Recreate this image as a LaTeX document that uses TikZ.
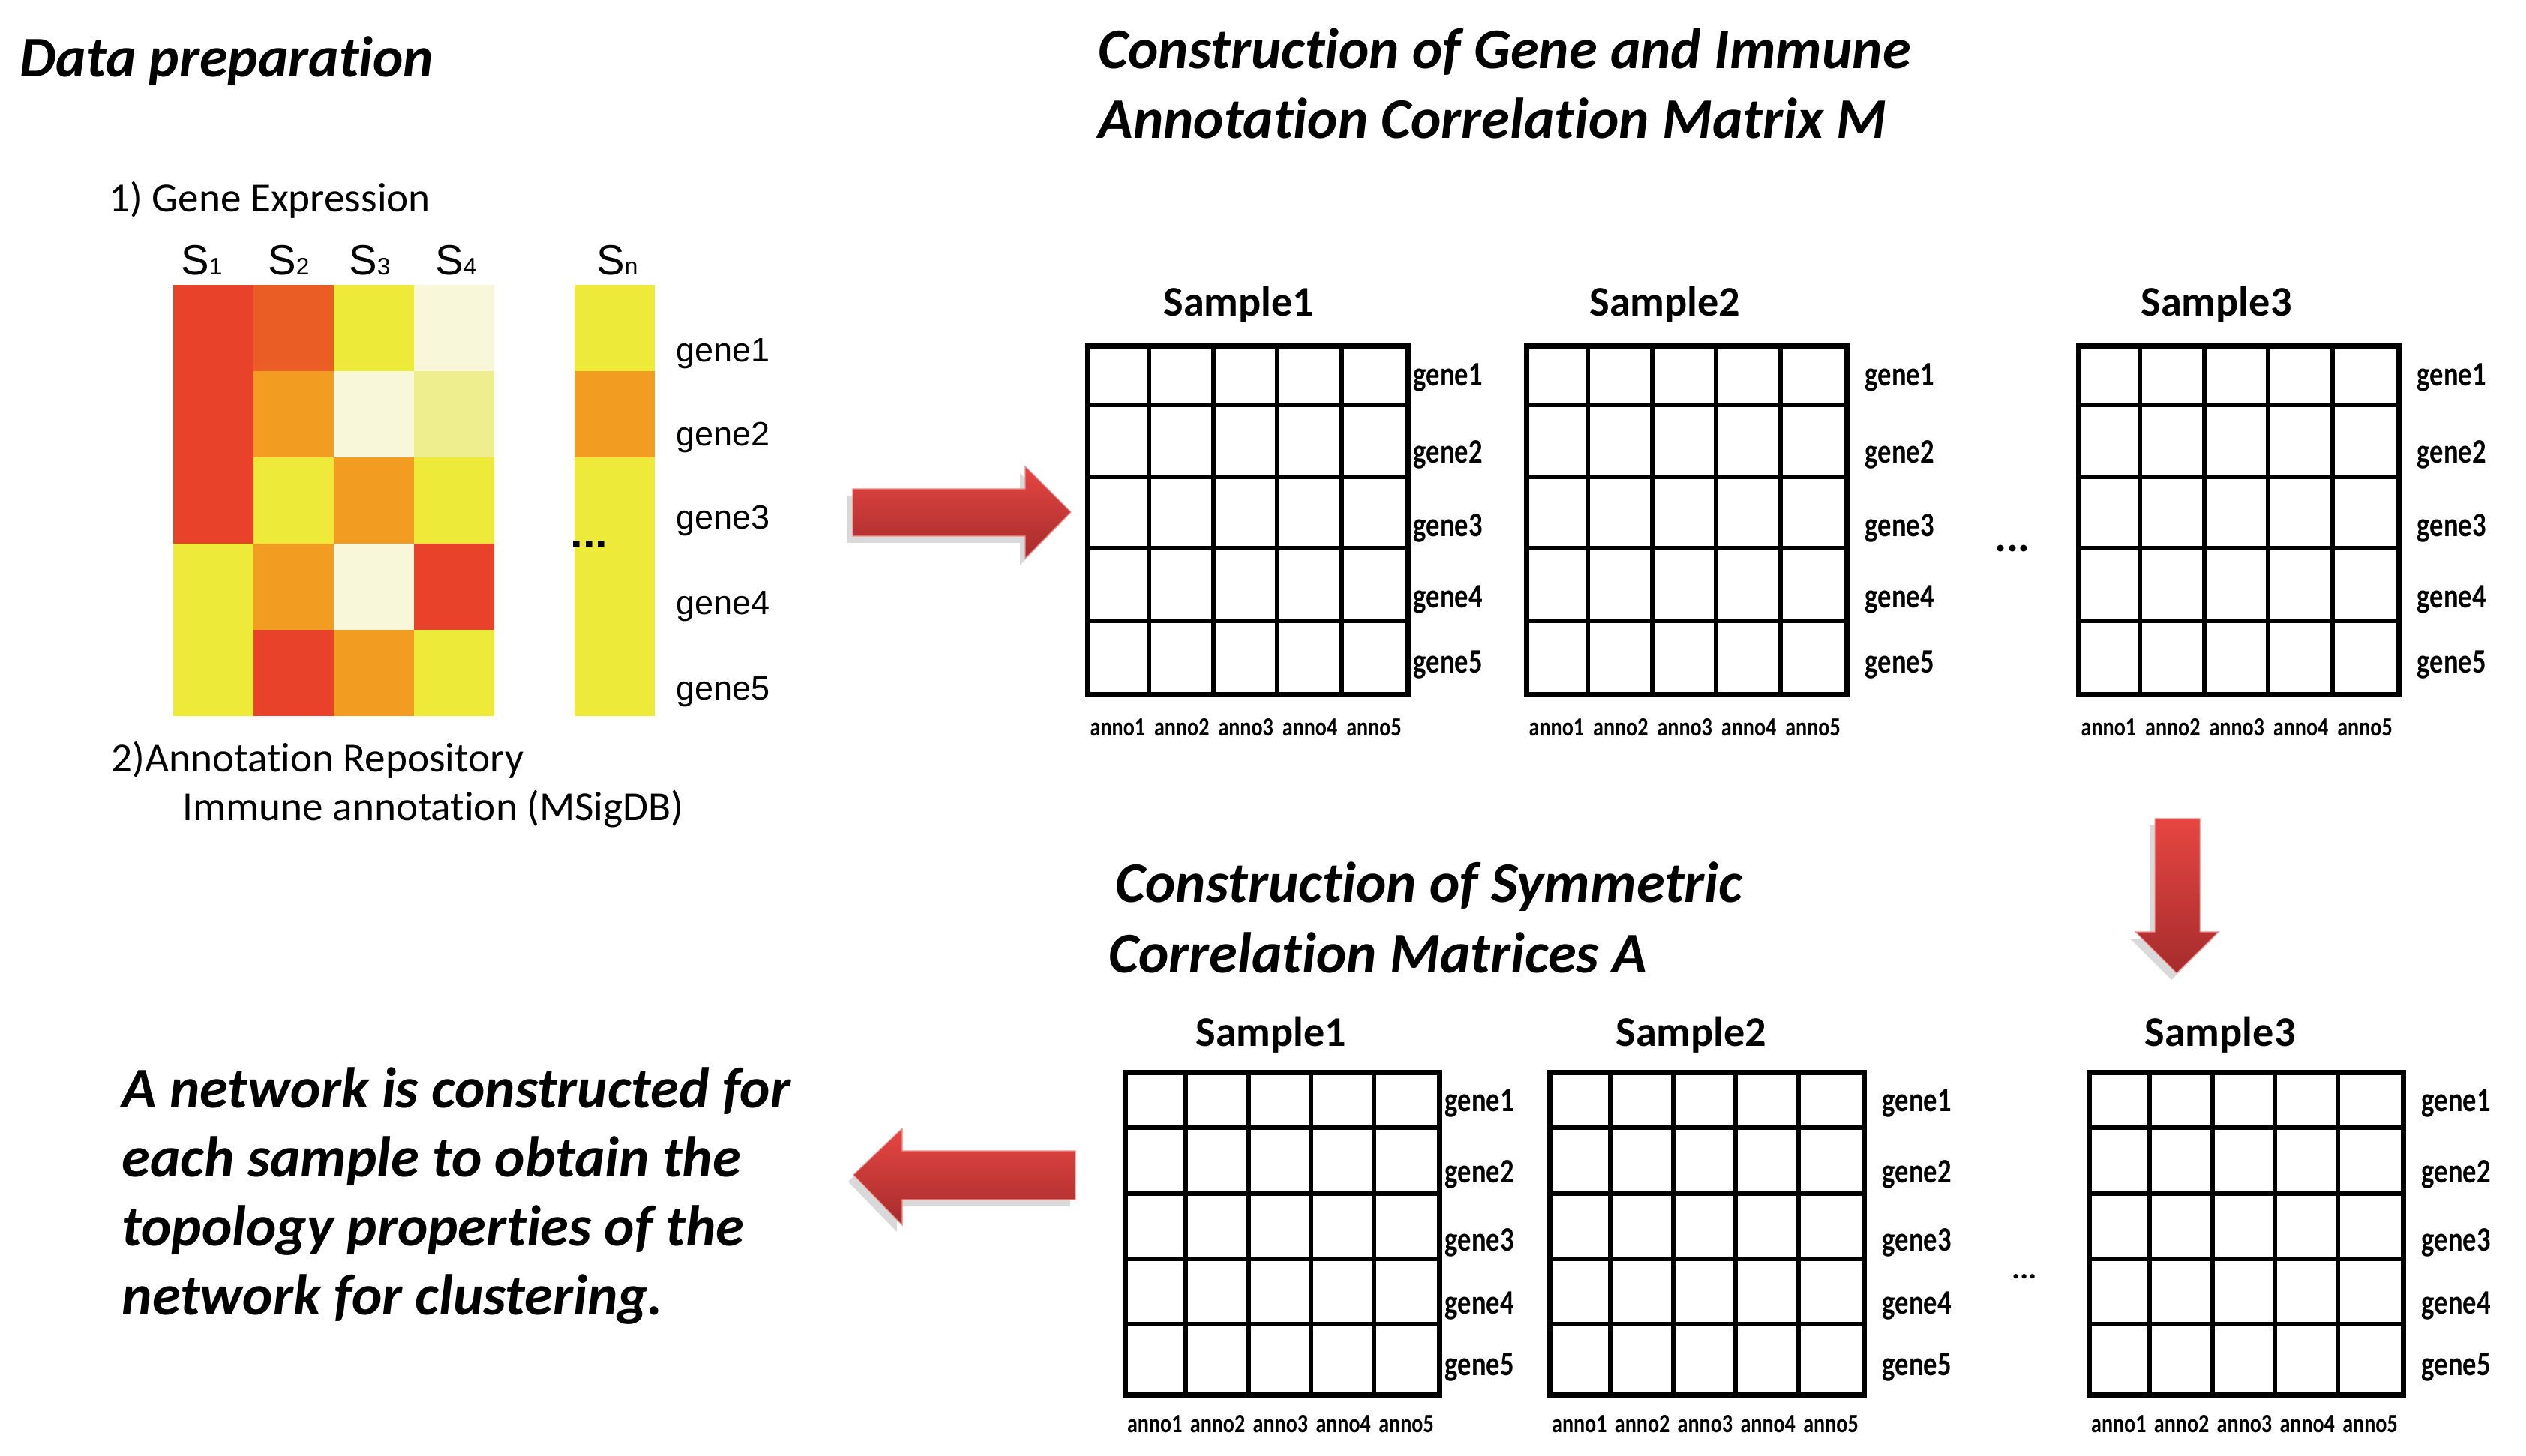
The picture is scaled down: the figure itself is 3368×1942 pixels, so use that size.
\documentclass[tikz,border=0pt]{standalone}
\usepackage{fontspec}
\setmainfont[Ligatures=NoCommon]{Carlito}
\newfontfamily\arialfont{Liberation Sans}
\newfontfamily\narrowfont[FakeStretch=0.8,Ligatures=NoCommon]{Carlito}
\usetikzlibrary{calc,%
                shadows}
\definecolor{hred}{RGB}{232,67,42}
\definecolor{horr}{RGB}{234,94,38}
\definecolor{horange}{RGB}{243,156,34}
\definecolor{hyellow}{RGB}{237,234,58}
\definecolor{hcream}{RGB}{248,247,218}
\definecolor{hpale}{RGB}{238,238,142}
\definecolor{arrowtop}{RGB}{230,70,66}
\definecolor{arrowbot}{RGB}{165,44,44}
\tikzstyle{headline}=[inner sep=0pt, anchor=base west, font=\fontsize{21.8}{26}\selectfont\bfseries\itshape]
\tikzstyle{subline}=[inner sep=0pt, anchor=base west, font=\fontsize{15.7}{18}\selectfont]
\tikzstyle{samplelabel}=[inner sep=0pt, anchor=base, font=\fontsize{16}{16}\selectfont\bfseries]
\tikzstyle{genelabel}=[inner sep=0pt, anchor=base west, font=\narrowfont\fontsize{13}{13}\selectfont\bfseries]
\tikzstyle{annolabel}=[inner sep=0pt, anchor=base, font=\narrowfont\fontsize{10}{10}\selectfont\bfseries]
\tikzstyle{hmlabel}=[inner sep=0pt, anchor=base west, font=\arialfont\fontsize{12.8}{13}\selectfont]
\tikzstyle{collabel}=[inner sep=0pt, anchor=base, font=\arialfont\fontsize{16}{16}\selectfont]
\tikzstyle{matbox}=[rectangle, draw, line width=1.9pt, inner sep=0pt, anchor=north west]
\tikzstyle{gridline}=[line width=1.7pt]
\tikzstyle{fatarrow}=[top color=arrowtop, bottom color=arrowbot, draw=arrowtop!60!white, line width=0.3pt,
  drop shadow={opacity=0.3, shadow xshift=-0.7mm, shadow yshift=-0.9mm}]

\begin{document}
\begin{tikzpicture}[x=0.1mm, y=-0.1mm]
  \useasboundingbox (0,0) rectangle (3368,1942);

  \node[headline] (prep) at (26,103) {Data preparation};
  \node[subline] (geneexpr) at (145,283) {1) Gene Expression};
  \node[subline] (annorepo) at (148,1030) {2)Annotation Repository};
  \node[subline] (immune) at (243,1095) {Immune annotation (MSigDB)};

  \foreach \row [count=\i] in {{hred,horr,hyellow,hcream,hyellow},
                               {hred,horange,hcream,hpale,horange},
                               {hred,hyellow,horange,hyellow,hyellow},
                               {hyellow,horange,hcream,hred,hyellow},
                               {hyellow,hred,horange,hyellow,hyellow}}
    \foreach \cl [count=\j] in \row {
      \pgfmathsetmacro\xa{{231,338,445,552,766}[\j-1]}
      \fill[\cl] (\xa,{380+115*(\i-1)}) rectangle ({\xa+107},{495+115*(\i-1)});
    }
  \foreach \s/\sx in {1/269,2/385,3/493,4/608,n/823}
    \node[collabel] (col\s) at (\sx,367) {S{\fontsize{9}{9}\selectfont\s}};
  \foreach \g/\gy in {1/483,2/595,3/706,4/820,5/934}
    \node[hmlabel] (hmgene\g) at (901,\gy) {gene\g};
  \node[inner sep=0pt, anchor=base west, font=\arialfont\fontsize{17}{17}\selectfont\bfseries] (hmdots) at (760,731) {...};

  \node[headline] (toptitle1) at (1464,92) {Construction of Gene and Immune};
  \node[headline] (toptitle2) at (1464,185) {Annotation Correlation Matrix M};

  \foreach \m/\xl/\sx/\gx in {1/1447/1652/10, 2/2032/2220/27, 3/2768/2955/27}{
    \node[matbox, minimum width=42.7mm, minimum height=46.5mm] (topmat\m) at (\xl,458) {};
    \foreach \c in {1,...,4}
      \draw[gridline] ({\xl+85.4*\c},458) -- ({\xl+85.4*\c},923);
    \foreach \r in {82,178,273,370}
      \draw[gridline] (\xl,{458+\r}) -- ({\xl+427},{458+\r});
    \node[samplelabel] (topname\m) at (\sx,422) {Sample\m};
    \foreach \g/\gy in {1/515,2/618,3/716,4/811,5/898}
      \node[genelabel] (topgene\m\g) at ({\xl+427+\gx},\gy) {gene\g};
    \foreach \a in {1,...,5}
      \node[annolabel] (topanno\m\a) at ({\xl+85.4*\a-42},982) {anno\a};
  }
  \node[inner sep=0pt, anchor=base, font=\fontsize{17}{17}\selectfont\bfseries] (topdots) at (2683,736) {...};

  \node[headline] (bottitle1) at (1487,1204) {Construction of Symmetric};
  \node[headline] (bottitle2) at (1478,1297) {Correlation Matrices A};

  \foreach \m/\xl/\sx/\gx in {1/1497/1695/10, 2/2063/2255/27, 3/2782/2960/27}{
    \node[matbox, minimum width=41.9mm, minimum height=43mm] (botmat\m) at (\xl,1427) {};
    \foreach \c in {1,...,4}
      \draw[gridline] ({\xl+83.8*\c},1427) -- ({\xl+83.8*\c},1857);
    \foreach \r in {77,165,252,339}
      \draw[gridline] (\xl,{1427+\r}) -- ({\xl+419},{1427+\r});
    \node[samplelabel] (botname\m) at (\sx,1395) {Sample\m};
    \foreach \g/\gy in {1/1482,2/1577,3/1668,4/1752,5/1834}
      \node[genelabel] (botgene\m\g) at ({\xl+419+\gx},\gy) {gene\g};
    \foreach \a in {1,...,5}
      \node[annolabel] (botanno\m\a) at ({\xl+83.8*\a-41},1910) {anno\a};
  }
  \node[inner sep=0pt, anchor=base, font=\fontsize{12}{12}\selectfont\bfseries] (botdots) at (2699,1705) {...};

  \foreach \t [count=\i] in {A network is constructed for, each sample to obtain the,
                             topology properties of the, network for clustering.}
    \node[headline] (net\i) at (162,{1477+92*(\i-1)}) {\t};

  \path[fatarrow] (1137,652) -- (1367,652) -- (1367,622) -- (1428,683) -- (1367,745)
    -- (1367,715) -- (1137,715) -- cycle;
  \path[fatarrow] (2873,1092) -- (2933,1092) -- (2933,1243) -- (2958,1243) -- (2902,1298)
    -- (2847,1243) -- (2873,1243) -- cycle;
  \path[fatarrow] (1434,1535) -- (1203,1535) -- (1203,1505) -- (1138,1567) -- (1203,1634)
    -- (1203,1600) -- (1434,1600) -- cycle;
\end{tikzpicture}
\end{document}
